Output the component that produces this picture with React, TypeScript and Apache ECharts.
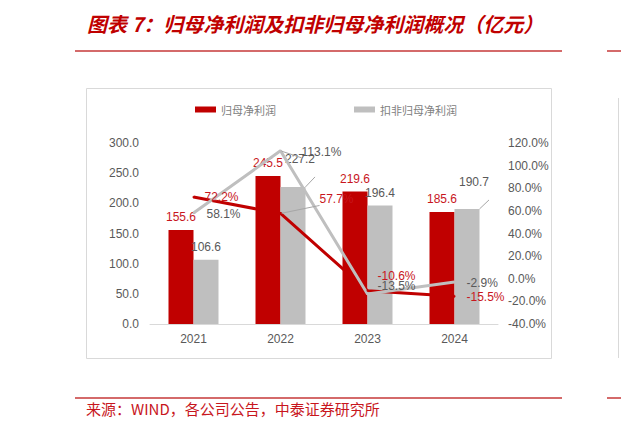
import React, { useRef, useEffect } from 'react'
import * as echarts from 'echarts'

// 数据
const years = ['2021', '2022', '2023', '2024']
const netProfit = [155.6, 245.5, 219.6, 185.6] // 归母净利润（亿元）
const deductedProfit = [106.6, 227.2, 196.4, 190.7] // 扣非归母净利润（亿元）
const netProfitYoY = [72.2, 57.7, -10.6, -15.5] // 归母净利润同比（%）
const deductedYoY = [58.1, 113.1, -13.5, -2.9] // 扣非归母净利润同比（%）
const leftTicks = { min: 0, max: 300, interval: 50 }
const rightTicks = { min: -40, max: 120, interval: 20 }

// 标签位置（样式，与数据分开）
const deductedBarOffset: (number[] | null)[] = [null, [7, -15], null, [7, -14]]
const netYoYDistance = [10, 38, 9, 11]
const netYoYOffset: number[][] = [[0, 0], [0, -14], [0, -15], [0, 1]]
const netYoYLeader = [false, true, false, false]
const deductedYoYDistance = [12, 20, 9, 11]
const deductedYoYOffset: number[][] = [[0, 1], [0, 1], [0, -8], [0, 1]]
const deductedYoYLeader = [false, true, false, false]

const RED = '#C00000'
const RED_TEXT = '#C8161D'
const GRAY = '#BFBFBF'
const TEXT = '#595959'
const NUM_FONT = '"Liberation Sans", Arial, sans-serif'
const CJK_FONT = '"Noto Sans CJK SC", sans-serif'
const leaderStyle = { show: true, lineStyle: { color: '#A6A6A6', width: 1 } }

const App: React.FC = () => {
  const chartRef = useRef<HTMLDivElement>(null)

  useEffect(() => {
    if (!chartRef.current) return
    const chart = echarts.init(chartRef.current, null, { renderer: 'svg' })

    const barLabel = (color: string) => ({
      show: true,
      position: 'top' as const,
      distance: 7,
      color,
      fontSize: 12,
      fontFamily: NUM_FONT,
      formatter: (p: any) => Number(p.value).toFixed(1),
    })

    const lineLabel = (color: string) => ({
      show: true,
      position: 'right' as const,
      distance: 10,
      color,
      fontSize: 12,
      fontFamily: NUM_FONT,
      formatter: (p: any) => Number(p.value).toFixed(1) + '%',
    })

    const option: any = {
      animation: false,
      backgroundColor: '#ffffff',
      graphic: [
        {
          type: 'text',
          left: 87,
          top: 13,
          style: {
            text: '图表 7：归母净利润及扣非归母净利润概况（亿元）',
            fill: RED,
            font: `italic bold 20px ${CJK_FONT}`,
          },
        },
        { type: 'line', shape: { x1: 75, y1: 51, x2: 562, y2: 51 }, style: { stroke: '#D46A6A', lineWidth: 2 } },
        { type: 'line', shape: { x1: 607, y1: 51, x2: 621, y2: 51 }, style: { stroke: '#D46A6A', lineWidth: 2 } },
        {
          type: 'rect',
          shape: { x: 86.5, y: 88.5, width: 465, height: 270 },
          style: { fill: 'none', stroke: '#D9D9D9', lineWidth: 1 },
          z: -1,
        },
        { type: 'line', shape: { x1: 618.5, y1: 98, x2: 618.5, y2: 358 }, style: { stroke: '#D9D9D9', lineWidth: 1 } },
        { type: 'line', shape: { x1: 75, y1: 398, x2: 562, y2: 398 }, style: { stroke: '#D46A6A', lineWidth: 2 } },
        { type: 'line', shape: { x1: 607, y1: 398, x2: 621, y2: 398 }, style: { stroke: '#D46A6A', lineWidth: 2 } },
        {
          type: 'text',
          left: 86,
          top: 401,
          style: {
            text: '来源：WIND，各公司公告，中泰证券研究所',
            fill: RED_TEXT,
            font: `15px ${CJK_FONT}`,
          },
        },
      ],
      legend: {
        data: ['归母净利润', '扣非归母净利润'],
        left: 190,
        top: 99,
        itemWidth: 21,
        itemHeight: 6,
        itemGap: 78,
        icon: 'rect',
        textStyle: { color: '#808080', fontSize: 11, fontFamily: CJK_FONT },
      },
      grid: { left: 150, right: 123, top: 143, bottom: 105 },
      xAxis: {
        type: 'category',
        data: years,
        axisLine: { lineStyle: { color: '#D9D9D9', width: 1 } },
        axisTick: { show: false },
        axisLabel: { color: TEXT, fontSize: 12, fontFamily: NUM_FONT, margin: 9 },
      },
      yAxis: [
        {
          type: 'value',
          ...leftTicks,
          axisLine: { show: false },
          axisTick: { show: false },
          splitLine: { show: false },
          axisLabel: {
            color: TEXT,
            fontSize: 12,
            fontFamily: NUM_FONT,
            margin: 11,
            formatter: (v: number) => v.toFixed(1),
          },
        },
        {
          type: 'value',
          ...rightTicks,
          position: 'right',
          axisLine: { show: false },
          axisTick: { show: false },
          splitLine: { show: false },
          axisLabel: {
            color: TEXT,
            fontSize: 12,
            fontFamily: NUM_FONT,
            margin: 10,
            formatter: (v: number) => v.toFixed(1) + '%',
          },
        },
      ],
      series: [
        {
          name: '归母净利润',
          type: 'bar',
          yAxisIndex: 0,
          barWidth: 25,
          barGap: '0%',
          itemStyle: { color: RED },
          label: barLabel(RED_TEXT),
          data: netProfit,
        },
        {
          name: '扣非归母净利润',
          type: 'bar',
          yAxisIndex: 0,
          barWidth: 25,
          itemStyle: { color: GRAY },
          label: barLabel(TEXT),
          data: deductedProfit.map((v, i) => {
            const off = deductedBarOffset[i]
            return off ? { value: v, label: { offset: off }, labelLine: leaderStyle } : v
          }),
        },
        {
          name: '归母净利润同比',
          type: 'line',
          yAxisIndex: 1,
          symbol: 'circle',
          symbolSize: 2,
          showSymbol: true,
          itemStyle: { color: RED },
          lineStyle: { color: RED, width: 3 },
          label: lineLabel(RED_TEXT),
          data: netProfitYoY.map((v, i) => ({
            value: v,
            label: { distance: netYoYDistance[i], offset: netYoYOffset[i] },
            ...(netYoYLeader[i] ? { labelLine: leaderStyle } : {}),
          })),
        },
        {
          name: '扣非归母净利润同比',
          type: 'line',
          yAxisIndex: 1,
          symbol: 'circle',
          symbolSize: 2,
          showSymbol: true,
          itemStyle: { color: GRAY },
          lineStyle: { color: GRAY, width: 3 },
          label: lineLabel(TEXT),
          data: deductedYoY.map((v, i) => ({
            value: v,
            label: { distance: deductedYoYDistance[i], offset: deductedYoYOffset[i] },
            ...(deductedYoYLeader[i] ? { labelLine: leaderStyle } : {}),
          })),
        },
      ],
    }

    chart.setOption(option)
    return () => {
      chart.dispose()
    }
  }, [])

  return (
    <div
      ref={chartRef}
      style={{ position: 'absolute', left: 0, top: 0, width: '621px', height: '429px' }}
    />
  )
}

export default App
